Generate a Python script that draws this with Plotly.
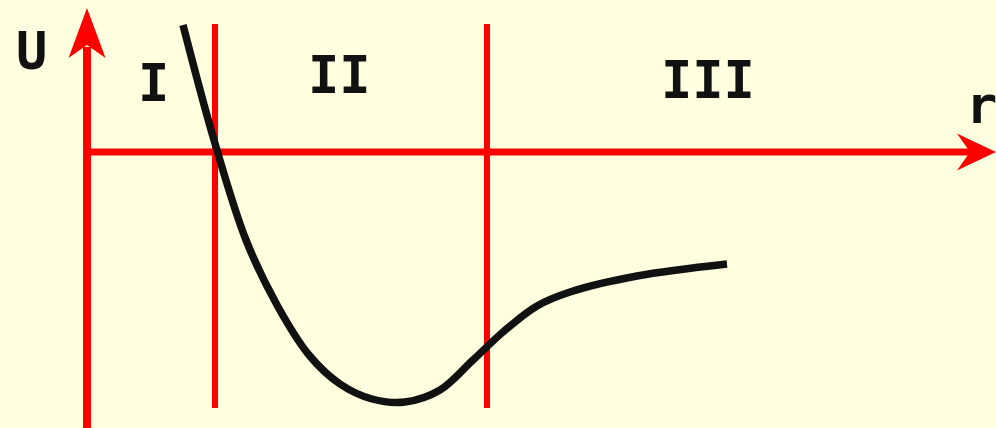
import plotly.graph_objects as go

# ---- data (r, U in arbitrary units; origin at axes crossing) ----
curve_r = [9.6, 12.7, 15.9, 19.0, 22.2, 25.3, 28.5, 31.8, 35.3, 38.6, 41.6, 45.0,
           48.3, 55.0, 64.0]
curve_U = [12.7, 1.2, -8.8, -15.3, -20.3, -23.2, -24.7, -25.0, -23.8, -20.8, -18.0, -15.4,
           -14.0, -12.4, -11.2]

region_bounds = [12.8, 40.0]          # r positions of the region separators
region_span = [-25.6, 12.8]           # U extent of the separators
region_labels = ["I", "II", "III"]
region_label_r = [6.6, 25.2, 62.1]
region_label_U = [6.9, 7.7, 7.2]

axis_r_range = [-8.7, 90.9]
axis_U_range = [-27.6, 15.2]
r_axis_end = 90.9
U_axis_end = 14.4
head_len = 3.9
head_half = 1.85
notch = 2.6

axis_labels = ["U", "r"]
axis_label_pos = [(-5.6, 10.1), (89.4, 4.7)]

RED = "#ff0000"
BG = "#ffffe0"

fig = go.Figure()

# axes shafts
fig.add_shape(type="line", x0=-0.35, x1=r_axis_end - notch, y0=0, y1=0,
              line=dict(color=RED, width=7), layer="below")
fig.add_shape(type="line", x0=0, x1=0, y0=axis_U_range[0], y1=U_axis_end - 3.9,
              line=dict(color=RED, width=8), layer="below")

# region separators
for b in region_bounds:
    fig.add_shape(type="line", x0=b, x1=b, y0=region_span[0], y1=region_span[1],
                  line=dict(color=RED, width=6), layer="below")

# arrow heads (notched)
fig.add_trace(go.Scatter(
    x=[r_axis_end, r_axis_end - head_len, r_axis_end - notch, r_axis_end - head_len, r_axis_end],
    y=[0, head_half, 0, -head_half, 0],
    fill="toself", fillcolor=RED, mode="lines", line=dict(width=0, color=RED),
    hoverinfo="skip", showlegend=False))
fig.add_trace(go.Scatter(
    x=[0, -head_half, 0, head_half, 0],
    y=[U_axis_end, U_axis_end - 5.0, U_axis_end - 3.7, U_axis_end - 5.0, U_axis_end],
    fill="toself", fillcolor=RED, mode="lines", line=dict(width=0, color=RED),
    hoverinfo="skip", showlegend=False))

# potential curve
fig.add_trace(go.Scatter(x=curve_r, y=curve_U, mode="lines",
                         line=dict(color="#111111", width=7.5, shape="spline",
                                   smoothing=1.0, simplify=False),
                         hoverinfo="skip", showlegend=False))

FONT = dict(family="DejaVu Sans Mono", size=52, color="#111111")
for t, xr, yu in zip(region_labels, region_label_r, region_label_U):
    fig.add_annotation(x=xr, y=yu, text="<b>" + t + "</b>", showarrow=False, font=FONT,
                       xanchor="center", yanchor="middle")
for t, (xr, yu) in zip(axis_labels, axis_label_pos):
    fig.add_annotation(x=xr, y=yu, text="<b>" + t + "</b>", showarrow=False, font=FONT,
                       xanchor="center", yanchor="middle")

fig.update_layout(
    width=996, height=428,
    margin=dict(l=0, r=0, t=0, b=0),
    paper_bgcolor=BG, plot_bgcolor=BG,
    xaxis=dict(range=axis_r_range, visible=False, fixedrange=True),
    yaxis=dict(range=axis_U_range, visible=False, fixedrange=True),
    showlegend=False,
)
fig.write_html("out.html", config=dict(displayModeBar=False),
               post_script="document.body.style.margin='0';document.body.style.background='#ffffe0';")
